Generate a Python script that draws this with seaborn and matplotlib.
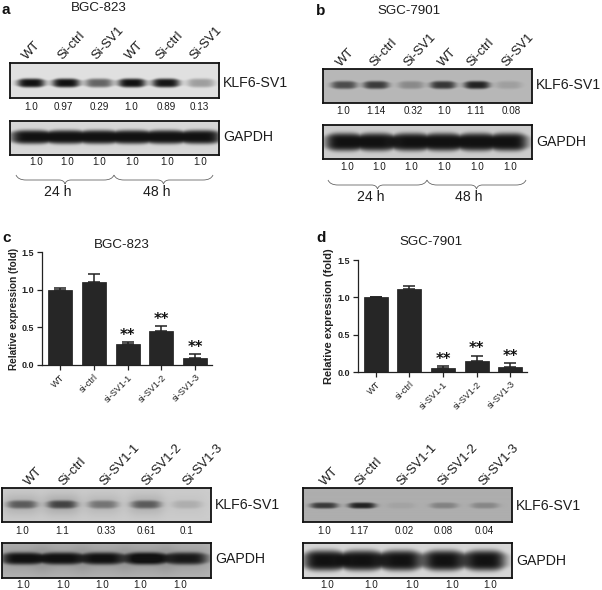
import numpy as np
import pandas as pd
import seaborn as sns
import matplotlib.pyplot as plt
from matplotlib.path import Path
from matplotlib.patches import PathPatch

W, H = 602, 590

# blot labels
time_labels = ["WT", "Si-ctrl", "Si-SV1", "WT", "Si-ctrl", "Si-SV1"]
sirna_labels = ["WT", "Si-ctrl", "Si-SV1-1", "Si-SV1-2", "Si-SV1-3"]

# densitometry values printed under the blots
a_klf = ["1.0", "0.97", "0.29", "1.0", "0.89", "0.13"]
b_klf = ["1.0", "1.14", "0.32", "1.0", "1.11", "0.08"]
c_klf = ["1.0", "1.1", "0.33", "0.61", "0.1"]
d_klf = ["1.0", "1.17", "0.02", "0.08", "0.04"]
gapdh_6 = ["1.0"] * 6
gapdh_5 = ["1.0"] * 5

# band darkness (0-1)
a_klf_dark = [1.0, 1.0, 0.6, 1.0, 0.98, 0.32]
a_gapdh_dark = [1.0, 1.0, 1.0, 1.0, 1.0, 1.0]
b_klf_dark = [0.65, 0.75, 0.28, 0.78, 0.9, 0.15]
b_gapdh_dark = [1.0, 1.0, 1.0, 1.0, 1.0, 1.0]
c_klf_dark = [0.45, 0.55, 0.35, 0.45, 0.12]
c_gapdh_dark = [0.85, 0.85, 0.85, 0.92, 0.8]
d_klf_dark = [0.75, 0.9, 0.07, 0.28, 0.25]
d_gapdh_dark = [1.0, 1.0, 1.0, 1.0, 1.0]

# bar charts
bar_labels = ["WT", "si-ctrl", "si-SV1-1", "si-SV1-2", "si-SV1-3"]
c_means = [1.0, 1.1, 0.28, 0.45, 0.09]
c_errs = [0.02, 0.11, 0.03, 0.07, 0.06]
d_means = [1.0, 1.11, 0.05, 0.15, 0.065]
d_errs = [0.01, 0.04, 0.03, 0.07, 0.06]
stars = ["", "", "**", "**", "**"]

sns.set_style("ticks")
plt.rcParams["font.family"] = ["Liberation Sans", "DejaVu Sans"]
TXT = "#1c1c1c"

fig = plt.figure(figsize=(W / 100, H / 100), dpi=100)
page = fig.add_axes([0, 0, 1, 1], zorder=5)
page.set_xlim(0, W)
page.set_ylim(H, 0)
page.axis("off")
page.patch.set_alpha(0)


def px_axes(x0, y0, x1, y1):
    return fig.add_axes([x0 / W, 1 - y1 / H, (x1 - x0) / W, (y1 - y0) / H])


def draw_blot(box, centers, dark, bg, half_w, half_h, band_y, name, halo=0.0):
    # soft lobed bands on a grey membrane, 3x oversampled
    x0, y0, x1, y1 = box
    xs = np.linspace(x0, x1, (x1 - x0) * 3)
    ys = np.linspace(y0, y1, (y1 - y0) * 3)
    xx, yy = np.meshgrid(xs, ys)
    lobes = [np.exp(-((xx - cx) / half_w) ** 4) for cx in centers]
    along = np.clip(sum(d * l for d, l in zip(dark, lobes)), 0, 1)
    thick = half_h * (0.6 + 0.4 * np.maximum.reduce(lobes))
    ink = along * np.exp(-((yy - band_y) / thick) ** 4)
    for cx, d in zip(centers, dark):
        ink += halo * d * np.exp(-((xx - cx) / (half_w * 1.25)) ** 4) * np.exp(-((yy - band_y) / (half_h * 2.6)) ** 2)
    ink = np.clip(ink, 0, 1)
    img = bg * (1 - ink) + 0.07 * ink
    ax = px_axes(x0, y0, x1, y1)
    ax.imshow(img, cmap="gray", vmin=0, vmax=1, aspect="auto", interpolation="bilinear")
    ax.set_xticks([])
    ax.set_yticks([])
    for s in ax.spines.values():
        s.set_visible(True)
        s.set_linewidth(1.3)
        s.set_color("#111111")
    page.text(x1 + 4, band_y, name, fontsize=10.2, va="center", ha="left", color=TXT)


def draw_numbers(xs, labels, y):
    for x, t in zip(xs, labels):
        page.text(x, y, t, fontsize=7.1, ha="center", va="center", color=TXT)


def draw_samples(xs, labels, y):
    for x, t in zip(xs, labels):
        page.text(x + 5, y + 2, t, fontsize=9.4, rotation=47, ha="left", va="bottom",
                  rotation_mode="anchor", color=TXT)


def draw_brace(x0, x1, y):
    # ends up at y, flat part 5 px lower, tip in the middle 9 px lower
    xm = (x0 + x1) / 2
    verts = [(x0, y), (x0 + 2, y + 5), (x0 + 10, y + 5), (xm - 6, y + 5),
             (xm - 1, y + 5), (xm, y + 9), (xm + 1, y + 5), (xm + 6, y + 5),
             (x1 - 10, y + 5), (x1 - 2, y + 5), (x1, y)]
    codes = [Path.MOVETO, Path.CURVE3, Path.CURVE3, Path.LINETO, Path.CURVE3, Path.CURVE3,
             Path.CURVE3, Path.CURVE3, Path.LINETO, Path.CURVE3, Path.CURVE3]
    page.add_patch(PathPatch(Path(verts, codes), fill=False, lw=0.6, ec="#666666"))


def draw_bars(box, means, errs, title, title_xy, ylab_x, ylab_size):
    x0, y0, x1, y1 = box
    df = pd.DataFrame({"group": bar_labels, "mean": means})
    ax = px_axes(x0, y0, x1, y1)
    sns.barplot(data=df, x="group", y="mean", color="#262626", saturation=1, width=0.71,
                edgecolor="#1a1a1a", linewidth=0.5, ax=ax)
    ax.errorbar(range(len(means)), means, yerr=[[0] * len(errs), errs], fmt="none",
                ecolor="#222222", elinewidth=1.1, capsize=4.2, capthick=1.1)
    ax.set_xlim(-0.53, 4.5)
    ax.set_ylim(0, 1.5)
    ax.set_yticks([0, 0.5, 1.0, 1.5])
    ax.set_yticklabels(["0.0", "0.5", "1.0", "1.5"], fontsize=6.5, fontweight="bold", color="#222222")
    ax.set_xticks(range(len(bar_labels)))
    ax.set_xticklabels(bar_labels, rotation=45, ha="right", rotation_mode="anchor",
                       fontsize=6.6, color="#222222")
    ax.tick_params(length=3.5, width=0.9, pad=2, color="#222222")
    ax.set_xlabel("")
    ax.set_ylabel("")
    sns.despine(ax=ax)
    for s in ["left", "bottom"]:
        ax.spines[s].set_linewidth(0.9)
        ax.spines[s].set_color("#222222")
    ax.patch.set_alpha(0)
    for i, s in enumerate(stars):
        if s:
            ax.annotate(s, (i, means[i] + errs[i]), xytext=(0, 1.5), textcoords="offset points",
                        ha="center", va="baseline", fontsize=10.5, fontweight="bold",
                        family="DejaVu Sans", color="#111111")
    page.text(title_xy[0], title_xy[1], title, fontsize=9.6, ha="center", va="center", color=TXT)
    page.text(ylab_x, (y0 + y1) / 2, "Relative expression (fold)", fontsize=ylab_size, fontweight="bold",
              rotation=90, ha="center", va="center", color="#222222")


# panel a
ax_c = [31, 66, 99, 132, 166, 201]
draw_blot((10, 63, 219, 98), ax_c, a_klf_dark, 0.88, 14, 4.5, 83, "KLF6-SV1")
draw_blot((10, 121, 219, 155), ax_c, a_gapdh_dark, 0.84, 21, 7, 137, "GAPDH")
draw_samples([24, 60, 94, 127, 158, 192], time_labels, 60)
draw_numbers([31, 63, 99, 131, 166, 199], a_klf, 107)
draw_numbers([36, 67, 99, 132, 167, 200], gapdh_6, 162)
draw_brace(16, 114, 175)
draw_brace(114, 213, 175)
page.text(58, 192, "24 h", fontsize=10.2, ha="center", va="center", color=TXT)
page.text(157, 192, "48 h", fontsize=10.2, ha="center", va="center", color=TXT)
page.text(2, 10, "a", fontsize=11, fontweight="bold", ha="left", va="center", color="#111111")
page.text(99, 8, "BGC-823", fontsize=9.6, ha="center", va="center", color=TXT)

# panel b
bx_c = [344, 376, 411, 443, 477, 509]
draw_blot((323, 69, 532, 103), bx_c, b_klf_dark, 0.72, 13, 4, 85, "KLF6-SV1")
draw_blot((323, 125, 532, 159), bx_c, b_gapdh_dark, 0.8, 19, 9, 142, "GAPDH")
draw_samples([338, 372, 406, 440, 469, 504], time_labels, 67)
draw_numbers([343, 376, 413, 444, 476, 511], b_klf, 111)
draw_numbers([347, 379, 411, 444, 477, 510], gapdh_6, 167)
draw_brace(328, 427, 180)
draw_brace(427, 526, 180)
page.text(371, 197, "24 h", fontsize=10.2, ha="center", va="center", color=TXT)
page.text(469, 197, "48 h", fontsize=10.2, ha="center", va="center", color=TXT)
page.text(321, 11, "b", fontsize=11, fontweight="bold", ha="center", va="center", color="#111111")
page.text(409, 11, "SGC-7901", fontsize=9.6, ha="center", va="center", color=TXT)

# panel c and d bar charts
draw_bars((42, 252, 212, 365), c_means, c_errs, "BGC-823", (122, 245), 14.5, 7.2)
page.text(2, 238, "c", fontsize=11, fontweight="bold", ha="left", va="center", color="#111111")
draw_bars((358, 260, 527, 372), d_means, d_errs, "SGC-7901", (431, 242), 329, 8)
page.text(321, 238, "d", fontsize=11, fontweight="bold", ha="center", va="center", color="#111111")

# lower blots, left
cx_c = [22, 62, 103, 146, 187]
draw_blot((2, 488, 211, 522), cx_c, c_klf_dark, 0.8, 15, 4, 505, "KLF6-SV1", halo=0.35)
draw_blot((2, 543, 211, 578), cx_c, c_gapdh_dark, 0.72, 21, 6, 559, "GAPDH", halo=0.2)
draw_samples([26, 61, 102, 144, 185], sirna_labels, 486)
draw_numbers([22, 62, 106, 146, 187], c_klf, 531)
draw_numbers([23, 63, 102, 140, 180], gapdh_5, 585)

# lower blots, right
dx_c = [324, 362, 401, 444, 485]
draw_blot((303, 488, 512, 522), dx_c, d_klf_dark, 0.68, 14, 3, 506, "KLF6-SV1")
draw_blot((303, 543, 512, 578), dx_c, d_gapdh_dark, 0.84, 21, 10, 561, "GAPDH")
draw_samples([322, 357, 399, 440, 481], sirna_labels, 486)
draw_numbers([324, 359, 404, 443, 484], d_klf, 531)
draw_numbers([327, 371, 412, 452, 490], gapdh_5, 585)

fig.savefig("out.png", dpi=100)
